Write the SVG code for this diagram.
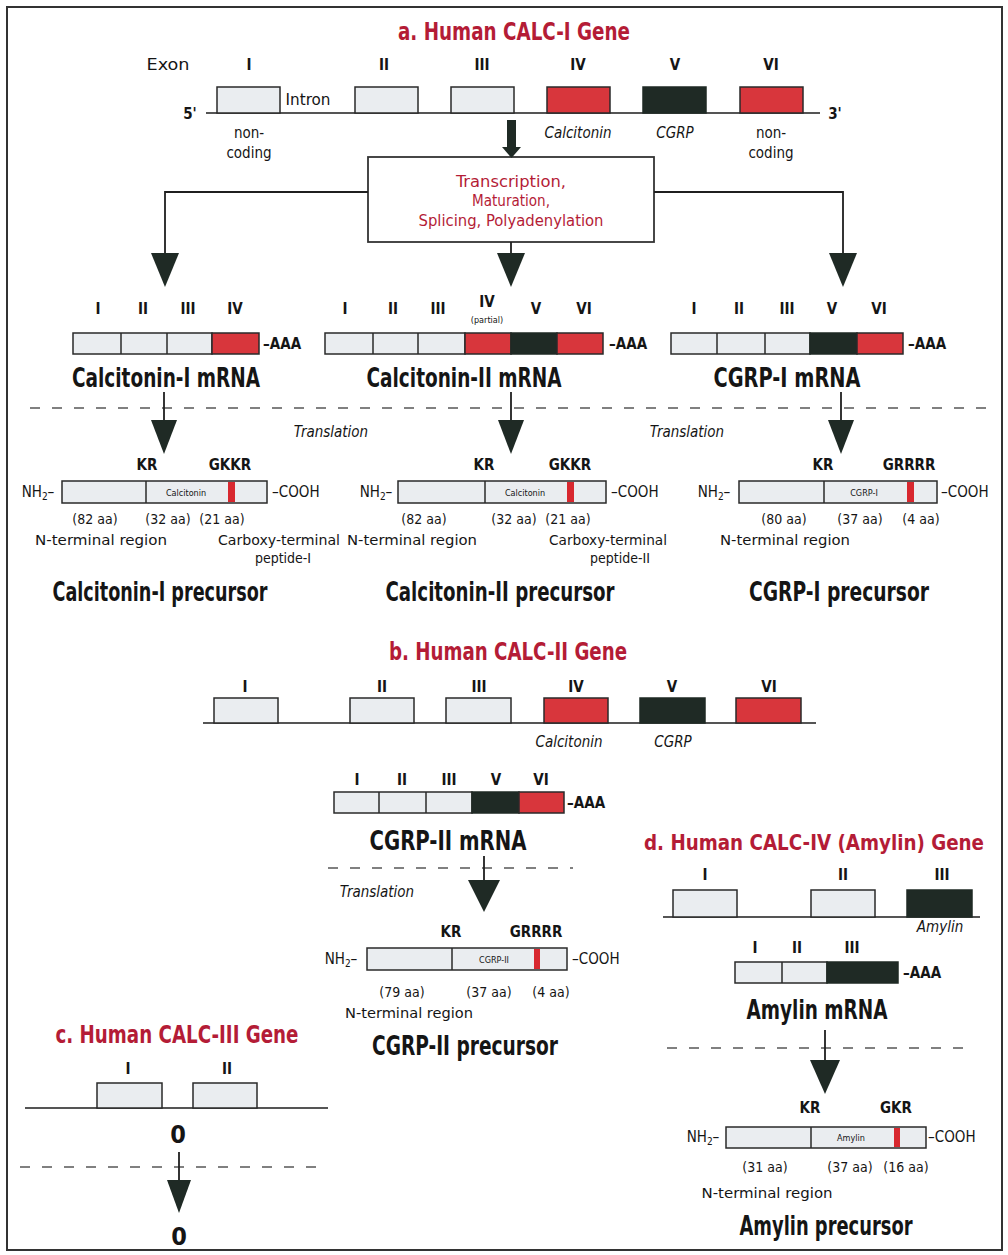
<svg xmlns="http://www.w3.org/2000/svg" width="1008" height="1255" viewBox="0 0 1008 1255">
<style>
text{font-family:"Liberation Sans Narrow","DejaVu Sans Condensed","Liberation Sans",Arial,sans-serif;fill:#151515;text-anchor:middle;font-size:15px}
.title{font-size:24px;font-weight:bold;fill:#b41c36}
.big{font-size:27px;font-weight:bold}
.red{fill:#b41c36;font-size:16px}
.it{font-style:italic}
.sm{font-size:14px}
.b{font-weight:bold}
.zero{font-size:25px;font-weight:bold}
.tiny{font-size:9px}
.st{text-anchor:start}
.lt{fill:#eaedf0;stroke:#2a2a2a;stroke-width:1.5}
.rd{fill:#d8363c;stroke:#2a2a2a;stroke-width:1.5}
.bk{fill:#1f2a25;stroke:#1f2a25;stroke-width:1.5}
.stripe{fill:#d8282f}
.gl{stroke:#555;stroke-width:2}
.dash{stroke:#808080;stroke-width:2;stroke-dasharray:10 12}
.conn{stroke:#1f1f1f;stroke-width:1.8;fill:none}
.head{fill:#1f2a25}
.div{stroke:#2a2a2a;stroke-width:1.5}
</style>
<defs>
<polygon id="ah" points="-14,0 14,0 0,34" class="head"/>
</defs>
<rect x="7" y="7" width="995" height="1243" fill="#fff" stroke="#333" stroke-width="2"/>

<!-- Section a: gene -->
<g id="titleA"><text x="514" y="40" class="title" textLength="232" lengthAdjust="spacingAndGlyphs">a. Human CALC-I Gene</text></g>
<g id="geneA">
<line x1="206" y1="113" x2="820" y2="113" class="gl"/>
<text x="168" y="70" textLength="43" lengthAdjust="spacingAndGlyphs">Exon</text>
<g class="b"><text x="249" y="70">I</text><text x="384" y="70">II</text><text x="482" y="70">III</text><text x="578" y="70">IV</text><text x="675" y="70">V</text><text x="771" y="70">VI</text></g>
<text x="190" y="119" class="b">5'</text><text x="835" y="119" class="b">3'</text>
<rect x="217" y="87" width="63" height="26" class="lt"/>
<rect x="355" y="87" width="63" height="26" class="lt"/>
<rect x="451" y="87" width="63" height="26" class="lt"/>
<rect x="547" y="87" width="63" height="26" class="rd"/>
<rect x="643" y="87" width="63" height="26" class="bk"/>
<rect x="740" y="87" width="63" height="26" class="rd"/>
<text x="308" y="105" textLength="45" lengthAdjust="spacingAndGlyphs">Intron</text>
<text x="249" y="138">non-</text><text x="249" y="158">coding</text>
<text x="578" y="138" class="it">Calcitonin</text>
<text x="675" y="138" class="it">CGRP</text>
<text x="771" y="138">non-</text><text x="771" y="158">coding</text>
</g>
<g id="processBox">
<rect x="368" y="157" width="286" height="85" fill="#fff" stroke="#333" stroke-width="1.8"/>
<text x="511" y="187" class="red" textLength="110" lengthAdjust="spacingAndGlyphs">Transcription,</text>
<text x="511" y="206" class="red" textLength="78" lengthAdjust="spacingAndGlyphs">Maturation,</text>
<text x="511" y="226" class="red" textLength="185" lengthAdjust="spacingAndGlyphs">Splicing, Polyadenylation</text>
</g>

<!-- Section a: mRNAs -->
<g id="calcI_mRNA">
<g class="b"><text x="98" y="314">I</text><text x="143" y="314">II</text><text x="188" y="314">III</text><text x="235" y="314">IV</text></g>
<rect x="73" y="333" width="139" height="21" class="lt"/>
<rect x="212" y="333" width="47" height="21" class="rd"/>
<line x1="121" y1="333" x2="121" y2="354" class="div"/><line x1="167" y1="333" x2="167" y2="354" class="div"/>
<text x="263" y="349" class="st b">–AAA</text>
<text x="166" y="387" class="big" textLength="188" lengthAdjust="spacingAndGlyphs">Calcitonin-I mRNA</text>
</g>
<g id="calcII_mRNA">
<g class="b"><text x="345" y="314">I</text><text x="393" y="314">II</text><text x="438" y="314">III</text><text x="487" y="307">IV</text><text x="536" y="314">V</text><text x="584" y="314">VI</text></g>
<text x="487" y="323" class="tiny">(partial)</text>
<rect x="325" y="333" width="140" height="21" class="lt"/>
<rect x="465" y="333" width="46" height="21" class="rd"/>
<rect x="511" y="333" width="46" height="21" class="bk"/>
<rect x="557" y="333" width="46" height="21" class="rd"/>
<line x1="373" y1="333" x2="373" y2="354" class="div"/><line x1="418" y1="333" x2="418" y2="354" class="div"/>
<text x="609" y="349" class="st b">–AAA</text>
<text x="464" y="387" class="big" textLength="195" lengthAdjust="spacingAndGlyphs">Calcitonin-II mRNA</text>
</g>
<g id="cgrpI_mRNA">
<g class="b"><text x="694" y="314">I</text><text x="739" y="314">II</text><text x="787" y="314">III</text><text x="832" y="314">V</text><text x="879" y="314">VI</text></g>
<rect x="671" y="333" width="139" height="21" class="lt"/>
<rect x="810" y="333" width="47" height="21" class="bk"/>
<rect x="857" y="333" width="46" height="21" class="rd"/>
<line x1="717" y1="333" x2="717" y2="354" class="div"/><line x1="765" y1="333" x2="765" y2="354" class="div"/>
<text x="908" y="349" class="st b">–AAA</text>
<text x="787" y="387" class="big" textLength="147" lengthAdjust="spacingAndGlyphs">CGRP-I mRNA</text>
</g>
<g id="translationA">
<line x1="30" y1="408" x2="994" y2="408" class="dash"/>
<text x="331" y="437" class="it">Translation</text>
<text x="687" y="437" class="it">Translation</text>
</g>

<!-- Section a: precursors -->
<g id="calcI_precursor">
<text x="147" y="470" class="b">KR</text><text x="230" y="470" class="b">GKKR</text>
<text x="38" y="497">NH<tspan font-size="10" dy="3">2</tspan><tspan dy="-3">–</tspan></text>
<rect x="62" y="481" width="205" height="22" class="lt"/>
<line x1="146" y1="481" x2="146" y2="503" class="div"/>
<rect x="228" y="482" width="7" height="20" class="stripe"/>
<text x="186" y="496" class="tiny">Calcitonin</text>
<text x="272" y="497" class="st">–COOH</text>
<text x="95" y="524" class="sm">(82 aa)</text><text x="168" y="524" class="sm">(32 aa)</text><text x="222" y="524" class="sm">(21 aa)</text>
<text x="101" y="545" class="sm" textLength="132" lengthAdjust="spacingAndGlyphs">N-terminal region</text>
<text x="279" y="545" class="sm" textLength="122" lengthAdjust="spacingAndGlyphs">Carboxy-terminal</text>
<text x="283" y="563" class="sm">peptide-I</text>
<text x="160" y="601" class="big" textLength="215" lengthAdjust="spacingAndGlyphs">Calcitonin-I precursor</text>
</g>
<g id="calcII_precursor">
<text x="484" y="470" class="b">KR</text><text x="570" y="470" class="b">GKKR</text>
<text x="376" y="497">NH<tspan font-size="10" dy="3">2</tspan><tspan dy="-3">–</tspan></text>
<rect x="398" y="481" width="208" height="22" class="lt"/>
<line x1="485" y1="481" x2="485" y2="503" class="div"/>
<rect x="567" y="482" width="7" height="20" class="stripe"/>
<text x="525" y="496" class="tiny">Calcitonin</text>
<text x="611" y="497" class="st">–COOH</text>
<text x="424" y="524" class="sm">(82 aa)</text><text x="514" y="524" class="sm">(32 aa)</text><text x="568" y="524" class="sm">(21 aa)</text>
<text x="412" y="545" class="sm" textLength="130" lengthAdjust="spacingAndGlyphs">N-terminal region</text>
<text x="608" y="545" class="sm" textLength="118" lengthAdjust="spacingAndGlyphs">Carboxy-terminal</text>
<text x="620" y="563" class="sm">peptide-II</text>
<text x="500" y="601" class="big" textLength="229" lengthAdjust="spacingAndGlyphs">Calcitonin-II precursor</text>
</g>
<g id="cgrpI_precursor">
<text x="823" y="470" class="b">KR</text><text x="909" y="470" class="b">GRRRR</text>
<text x="714" y="497">NH<tspan font-size="10" dy="3">2</tspan><tspan dy="-3">–</tspan></text>
<rect x="739" y="481" width="198" height="22" class="lt"/>
<line x1="824" y1="481" x2="824" y2="503" class="div"/>
<rect x="907" y="482" width="7" height="20" class="stripe"/>
<text x="864" y="496" class="tiny">CGRP-I</text>
<text x="941" y="497" class="st">–COOH</text>
<text x="784" y="524" class="sm">(80 aa)</text><text x="860" y="524" class="sm">(37 aa)</text><text x="921" y="524" class="sm">(4 aa)</text>
<text x="785" y="545" class="sm" textLength="130" lengthAdjust="spacingAndGlyphs">N-terminal region</text>
<text x="839" y="601" class="big" textLength="180" lengthAdjust="spacingAndGlyphs">CGRP-I precursor</text>
</g>

<!-- Section b -->
<g id="titleB"><text x="508" y="660" class="title" textLength="238" lengthAdjust="spacingAndGlyphs">b. Human CALC-II Gene</text></g>
<g id="geneB">
<line x1="203" y1="723" x2="816" y2="723" class="gl"/>
<g class="b"><text x="245" y="692">I</text><text x="382" y="692">II</text><text x="479" y="692">III</text><text x="576" y="692">IV</text><text x="672" y="692">V</text><text x="769" y="692">VI</text></g>
<rect x="214" y="698" width="64" height="25" class="lt"/>
<rect x="350" y="698" width="64" height="25" class="lt"/>
<rect x="446" y="698" width="65" height="25" class="lt"/>
<rect x="544" y="698" width="64" height="25" class="rd"/>
<rect x="640" y="698" width="65" height="25" class="bk"/>
<rect x="736" y="698" width="65" height="25" class="rd"/>
<text x="569" y="747" class="it">Calcitonin</text>
<text x="673" y="747" class="it">CGRP</text>
</g>
<g id="cgrpII_mRNA">
<g class="b"><text x="357" y="785">I</text><text x="402" y="785">II</text><text x="449" y="785">III</text><text x="496" y="785">V</text><text x="541" y="785">VI</text></g>
<rect x="334" y="792" width="138" height="21" class="lt"/>
<rect x="472" y="792" width="47" height="21" class="bk"/>
<rect x="519" y="792" width="45" height="21" class="rd"/>
<line x1="379" y1="792" x2="379" y2="813" class="div"/><line x1="426" y1="792" x2="426" y2="813" class="div"/>
<text x="567" y="808" class="st b">–AAA</text>
<text x="448" y="850" class="big" textLength="157" lengthAdjust="spacingAndGlyphs">CGRP-II mRNA</text>
</g>
<g id="translationB">
<line x1="328" y1="868" x2="573" y2="868" class="dash"/>
<text x="377" y="897" class="it">Translation</text>
</g>
<g id="cgrpII_precursor">
<text x="451" y="937" class="b">KR</text><text x="536" y="937" class="b">GRRRR</text>
<text x="341" y="964">NH<tspan font-size="10" dy="3">2</tspan><tspan dy="-3">–</tspan></text>
<rect x="367" y="948" width="200" height="22" class="lt"/>
<line x1="452" y1="948" x2="452" y2="970" class="div"/>
<rect x="534" y="949" width="6" height="20" class="stripe"/>
<text x="494" y="963" class="tiny">CGRP-II</text>
<text x="572" y="964" class="st">–COOH</text>
<text x="402" y="997" class="sm">(79 aa)</text><text x="489" y="997" class="sm">(37 aa)</text><text x="551" y="997" class="sm">(4 aa)</text>
<text x="409" y="1018" class="sm" textLength="128" lengthAdjust="spacingAndGlyphs">N-terminal region</text>
<text x="465" y="1055" class="big" textLength="186" lengthAdjust="spacingAndGlyphs">CGRP-II precursor</text>
</g>

<!-- Section c -->
<g id="titleC"><text x="177" y="1043" class="title" textLength="243" lengthAdjust="spacingAndGlyphs">c. Human CALC-III Gene</text></g>
<g id="geneC">
<line x1="25" y1="1108" x2="328" y2="1108" class="gl"/>
<text x="128" y="1074" class="b">I</text><text x="227" y="1074" class="b">II</text>
<rect x="97" y="1083" width="65" height="25" class="lt"/>
<rect x="193" y="1083" width="64" height="25" class="lt"/>
<text x="178" y="1143" class="zero">0</text>
<line x1="20" y1="1167" x2="325" y2="1167" class="dash"/>
<text x="179" y="1245" class="zero">0</text>
</g>

<!-- Section d -->
<g id="titleD"><text x="814" y="850" class="title" style="font-size:21px" textLength="340" lengthAdjust="spacingAndGlyphs">d. Human CALC-IV (Amylin) Gene</text></g>
<g id="geneD">
<line x1="663" y1="917" x2="980" y2="917" class="gl"/>
<g class="b"><text x="705" y="880">I</text><text x="843" y="880">II</text><text x="942" y="880">III</text></g>
<rect x="673" y="890" width="64" height="27" class="lt"/>
<rect x="811" y="890" width="64" height="27" class="lt"/>
<rect x="907" y="890" width="65" height="27" class="bk"/>
<text x="940" y="932" class="it">Amylin</text>
</g>
<g id="amylin_mRNA">
<g class="b"><text x="755" y="953">I</text><text x="797" y="953">II</text><text x="852" y="953">III</text></g>
<rect x="735" y="962" width="92" height="21" class="lt"/>
<rect x="827" y="962" width="71" height="21" class="bk"/>
<line x1="782" y1="962" x2="782" y2="983" class="div"/>
<text x="903" y="978" class="st b">–AAA</text>
<text x="817" y="1019" class="big" textLength="141" lengthAdjust="spacingAndGlyphs">Amylin mRNA</text>
</g>
<g id="translationD">
<line x1="667" y1="1048" x2="973" y2="1048" class="dash"/>
</g>
<g id="amylin_precursor">
<text x="810" y="1113" class="b">KR</text><text x="896" y="1113" class="b">GKR</text>
<text x="703" y="1142">NH<tspan font-size="10" dy="3">2</tspan><tspan dy="-3">–</tspan></text>
<rect x="726" y="1127" width="200" height="21" class="lt"/>
<line x1="811" y1="1127" x2="811" y2="1148" class="div"/>
<rect x="894" y="1128" width="6" height="19" class="stripe"/>
<text x="851" y="1141" class="tiny">Amylin</text>
<text x="928" y="1142" class="st">–COOH</text>
<text x="765" y="1172" class="sm">(31 aa)</text><text x="850" y="1172" class="sm">(37 aa)</text><text x="906" y="1172" class="sm">(16 aa)</text>
<text x="767" y="1198" class="sm" textLength="131" lengthAdjust="spacingAndGlyphs">N-terminal region</text>
<text x="826" y="1235" class="big" textLength="173" lengthAdjust="spacingAndGlyphs">Amylin precursor</text>
</g>

<!-- Connectors -->
<g id="connectors">
<rect x="507" y="120" width="9" height="28" class="head"/>
<polygon points="502,147 521,147 511.5,158" class="head"/>
<polyline points="368,192 165,192 165,253" class="conn"/>
<polyline points="654,192 843,192 843,253" class="conn"/>
<line x1="511" y1="242" x2="511" y2="253" class="conn"/>
<use href="#ah" x="165" y="253"/>
<use href="#ah" x="511" y="253"/>
<use href="#ah" x="843" y="253"/>
<line x1="164" y1="392" x2="164" y2="420" class="conn"/>
<line x1="511" y1="392" x2="511" y2="420" class="conn"/>
<line x1="841" y1="392" x2="841" y2="420" class="conn"/>
<polygon points="151,420 177,420 164,454" class="head"/>
<polygon points="498,420 524,420 511,454" class="head"/>
<polygon points="828,420 854,420 841,454" class="head"/>
<line x1="484" y1="856" x2="484" y2="880" class="conn"/>
<polygon points="468,880 500,880 484,912" class="head"/>
<line x1="179" y1="1152" x2="179" y2="1180" class="conn"/>
<polygon points="167,1180 191,1180 179,1213" class="head"/>
<line x1="825" y1="1030" x2="825" y2="1060" class="conn"/>
<polygon points="810,1060 840,1060 825,1094" class="head"/>
</g>
</svg>
